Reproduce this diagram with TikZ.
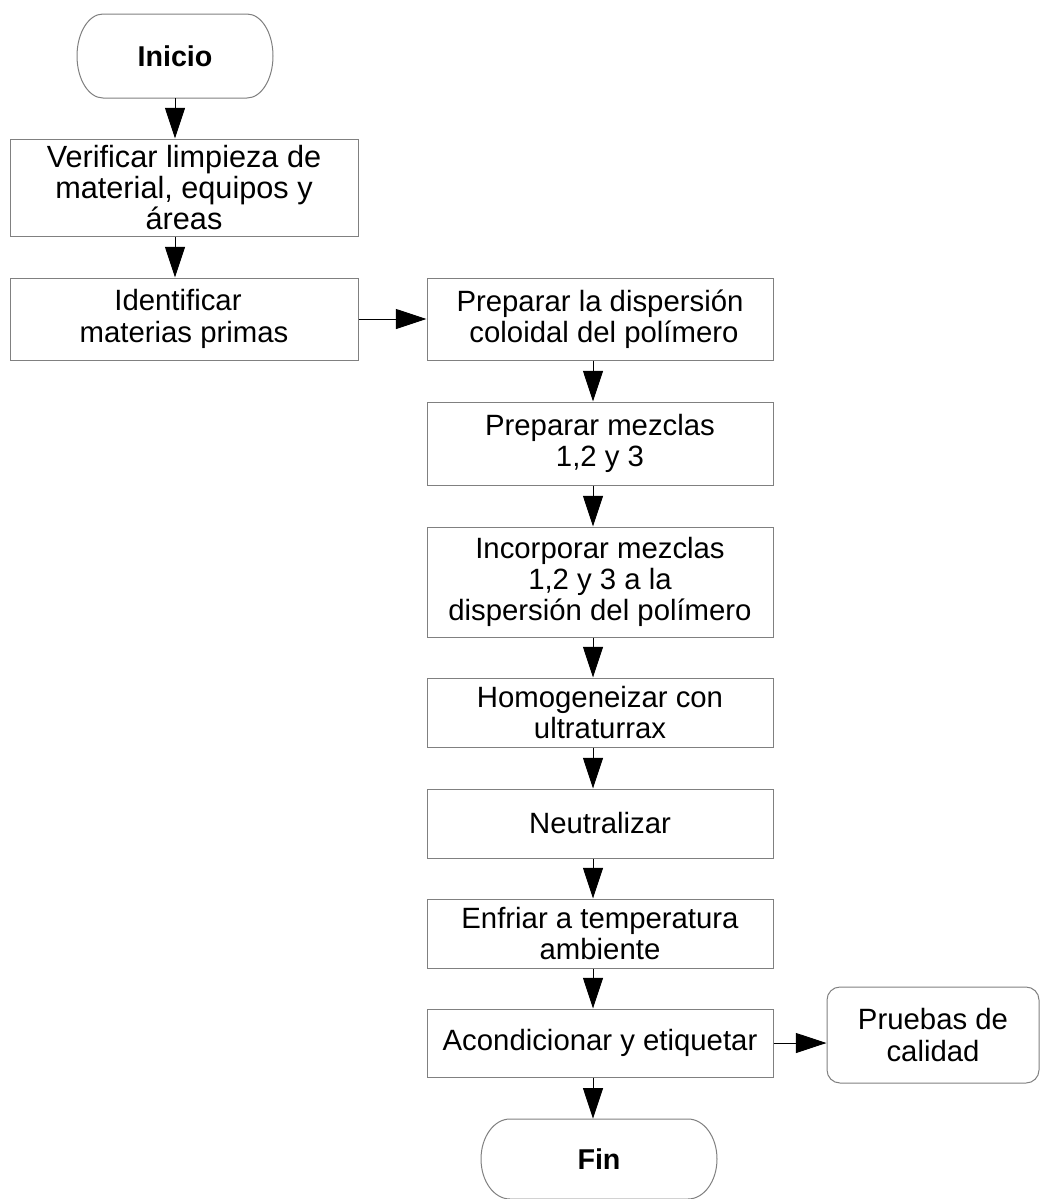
\documentclass[tikz,border=0pt]{standalone}
\usepackage{fontspec}
\setmainfont{Liberation Sans}
\usetikzlibrary{arrows.meta}
\definecolor{edgegray}{HTML}{808080}
\begin{document}
\begin{tikzpicture}[x=0.75pt,y=-0.75pt,
  every node/.style={font=\fontsize{22}{23.5}\selectfont, align=center, inner sep=0pt},
  procbox/.style={draw=edgegray, line width=0.75pt, rectangle, fill=white},
  termshape/.style={draw=edgegray, line width=0.75pt},
  termtext/.style={font=\fontsize{21.5}{23.5}\selectfont\bfseries},
  arr/.style={draw=black, line width=0.75pt, -{Triangle[length=23pt,width=15pt]}}]
\useasboundingbox (0,0) rectangle (1041,1199);
\fill[white] (0,0) rectangle (1041,1199);
\coordinate (colL) at (175,0);
\coordinate (colR) at (593,0);

% terminal shapes
\draw[termshape] (103,14) -- (247,14) arc[start angle=-90,end angle=90,x radius=26,y radius=42]
  -- (103,98) arc[start angle=90,end angle=270,x radius=26,y radius=42] -- cycle;
\node[termtext, minimum width=147pt, minimum height=63pt] (inicio) at (175,56) {Inicio};

\draw[termshape] (510,1119) -- (688,1119) arc[start angle=-90,end angle=90,x radius=29,y radius=40]
  -- (510,1199) arc[start angle=90,end angle=270,x radius=29,y radius=40] -- cycle;
\node[termtext, minimum width=177pt, minimum height=60pt] (fin) at (599,1159) {Fin};

% process boxes
\node[procbox, minimum width=261pt, minimum height=72.75pt, font=\fontsize{23}{23.4}\selectfont] (b1) at (184,187.5) {Verificar limpieza de\\material, equipos y\\áreas};
\node[procbox, minimum width=261pt, minimum height=61.5pt] (b2) at (184,319) {Identificar\hspace*{9pt}\\materias primas};
\node[procbox, minimum width=259.5pt, minimum height=61.5pt] (b3) at (600,319) {Preparar la dispersión\\\hspace*{6pt}coloidal del polímero};
\node[procbox, minimum width=259.5pt, minimum height=62.25pt] (b4) at (600,443.5) {Preparar mezclas\\1,2 y 3};
\node[procbox, minimum width=259.5pt, minimum height=82.5pt] (b5) at (600,582) {Incorporar mezclas\\1,2 y 3 a la\\dispersión del polímero};
\node[procbox, minimum width=259.5pt, minimum height=51.75pt] (b6) at (600,712.5) {Homogeneizar con\\ultraturrax};
\node[procbox, minimum width=259.5pt, minimum height=51.75pt] (b7) at (600,823.5) {Neutralizar};
\node[procbox, minimum width=259.5pt, minimum height=51.75pt] (b8) at (600,933.5) {Enfriar a temperatura\\ambiente};
\node[procbox, minimum width=259.5pt, minimum height=51pt] (b9) at (600,1043) {Acondicionar y etiquetar};
\node[procbox, rounded corners=9.75pt, minimum width=159pt, minimum height=72pt] (pr) at (933,1035) {Pruebas de\\calidad};

% connectors
\draw[arr] (inicio.south -| colL) -- (b1.north -| colL);
\draw[arr] (b1.south -| colL) -- (b2.north -| colL);
\draw[arr] (b2.east) -- (b3.west);
\draw[arr] (b3.south -| colR) -- (b4.north -| colR);
\draw[arr] (b4.south -| colR) -- (b5.north -| colR);
\draw[arr] (b5.south -| colR) -- (b6.north -| colR);
\draw[arr] (b6.south -| colR) -- (b7.north -| colR);
\draw[arr] (b7.south -| colR) -- (b8.north -| colR);
\draw[arr] (b8.south -| colR) -- (b9.north -| colR);
\draw[arr] (b9.east) -- (b9.east -| pr.west);
\draw[arr] (b9.south -| colR) -- (fin.north -| colR);
\end{tikzpicture}
\end{document}
